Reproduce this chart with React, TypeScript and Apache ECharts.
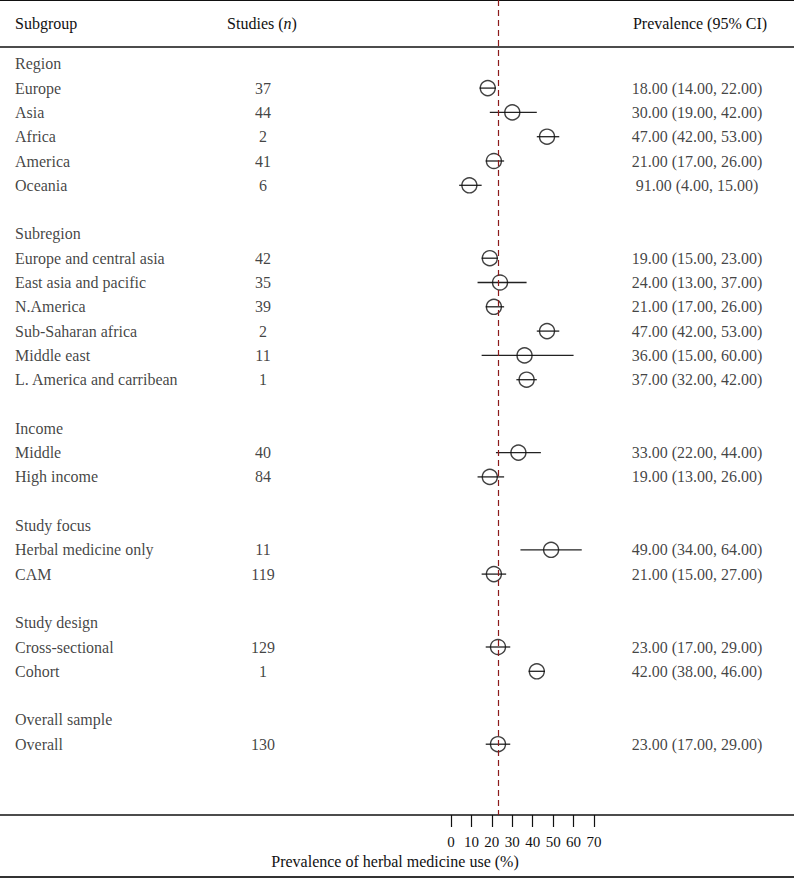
import React, { useEffect, useRef } from "react";
import * as echarts from "echarts";

const rowLabels: string[] = [
  "Region", "Europe", "Asia", "Africa", "America", "Oceania", "",
  "Subregion", "Europe and central asia", "East asia and pacific", "N.America",
  "Sub-Saharan africa", "Middle east", "L. America and carribean", "",
  "Income", "Middle", "High income", "",
  "Study focus", "Herbal medicine only", "CAM", "",
  "Study design", "Cross-sectional", "Cohort", "",
  "Overall sample", "Overall",
];
const studies: (number | null)[] = [
  null, 37, 44, 2, 41, 6, null,
  null, 42, 35, 39, 2, 11, 1, null,
  null, 40, 84, null,
  null, 11, 119, null,
  null, 129, 1, null,
  null, 130,
];
const estimates: (number | null)[] = [
  null, 18, 30, 47, 21, 9, null,
  null, 19, 24, 21, 47, 36, 37, null,
  null, 33, 19, null,
  null, 49, 21, null,
  null, 23, 42, null,
  null, 23,
];
const lowers: (number | null)[] = [
  null, 14, 19, 42, 17, 4, null,
  null, 15, 13, 17, 42, 15, 32, null,
  null, 22, 13, null,
  null, 34, 15, null,
  null, 17, 38, null,
  null, 17,
];
const uppers: (number | null)[] = [
  null, 22, 42, 53, 26, 15, null,
  null, 23, 37, 26, 53, 60, 42, null,
  null, 44, 26, null,
  null, 64, 27, null,
  null, 29, 46, null,
  null, 29,
];
const ciLabels: (string | null)[] = [
  null, "18.00 (14.00, 22.00)", "30.00 (19.00, 42.00)", "47.00 (42.00, 53.00)",
  "21.00 (17.00, 26.00)", "91.00 (4.00, 15.00)", null,
  null, "19.00 (15.00, 23.00)", "24.00 (13.00, 37.00)", "21.00 (17.00, 26.00)",
  "47.00 (42.00, 53.00)", "36.00 (15.00, 60.00)", "37.00 (32.00, 42.00)", null,
  null, "33.00 (22.00, 44.00)", "19.00 (13.00, 26.00)", null,
  null, "49.00 (34.00, 64.00)", "21.00 (15.00, 27.00)", null,
  null, "23.00 (17.00, 29.00)", "42.00 (38.00, 46.00)", null,
  null, "23.00 (17.00, 29.00)",
];
const referenceValue = 23;
const xMin = 0;
const xMax = 70;
const xInterval = 10;
const xTitle = "Prevalence of herbal medicine use (%)";

const FONT = "'Liberation Serif', 'Times New Roman', serif";
const FS = 16;
const W = 794;
const H = 879;
const AXIS_Y = 815;
const ROW0 = 63.8;
const ROW_STEP = 24.3;
const yMin = -ROW0 / ROW_STEP;
const yMax = yMin + AXIS_Y / ROW_STEP;

export default function App() {
  const ref = useRef<HTMLDivElement>(null);
  useEffect(() => {
    if (!ref.current) return;
    const chart = echarts.init(ref.current, null, { renderer: "svg" });

    const ciData = rowLabels
      .map((_, i) => (lowers[i] != null ? [lowers[i], uppers[i], i] : null))
      .filter((d) => d !== null);
    const estData = rowLabels
      .map((_, i) => (estimates[i] != null ? [estimates[i], i] : null))
      .filter((d) => d !== null);
    const nameData = rowLabels
      .map((n, i) => (n ? { value: [15, i], name: n } : null))
      .filter((d) => d !== null);
    const studyData = rowLabels
      .map((_, i) => (studies[i] != null ? { value: [263, i], name: String(studies[i]) } : null))
      .filter((d) => d !== null);
    const ciTextData = rowLabels
      .map((_, i) => (ciLabels[i] != null ? { value: [697, i], name: ciLabels[i] as string } : null))
      .filter((d) => d !== null);

    const textStyle = { color: "#111", fontFamily: FONT, fontSize: FS };

    chart.setOption({
      animation: false,
      backgroundColor: "#ffffff",
      textStyle: { fontFamily: FONT },
      grid: [
        { left: 451, width: 143, top: 0, height: AXIS_Y, containLabel: false },
        { left: 0, width: W, top: 0, height: AXIS_Y, containLabel: false },
      ],
      xAxis: [
        {
          type: "value",
          gridIndex: 0,
          position: "bottom",
          min: xMin,
          max: xMax,
          interval: xInterval,
          axisLine: { show: false, onZero: false },
          axisTick: { show: true, length: 12, inside: false, lineStyle: { color: "#111", width: 1.2 } },
          axisLabel: { show: true, margin: 19, color: "#111", fontFamily: FONT, fontSize: 15 },
          splitLine: { show: false },
        },
        { type: "value", gridIndex: 1, min: 0, max: W, show: false, axisLine: { onZero: false } },
      ],
      yAxis: [
        { type: "value", gridIndex: 0, min: yMin, max: yMax, inverse: true, show: false, axisLine: { onZero: false } },
        { type: "value", gridIndex: 1, min: yMin, max: yMax, inverse: true, show: false, axisLine: { onZero: false } },
      ],
      series: [
        {
          type: "custom",
          xAxisIndex: 0,
          yAxisIndex: 0,
          data: ciData,
          encode: { x: [0, 1], y: 2 },
          renderItem: (params: any, api: any) => {
            const p1 = api.coord([api.value(0), api.value(2)]);
            const p2 = api.coord([api.value(1), api.value(2)]);
            return {
              type: "line",
              shape: { x1: p1[0], y1: p1[1], x2: p2[0], y2: p2[1] },
              style: { stroke: "#222", lineWidth: 1.3 },
            };
          },
          z: 3,
        },
        {
          type: "scatter",
          xAxisIndex: 0,
          yAxisIndex: 0,
          data: estData,
          symbol: "circle",
          symbolSize: 15,
          itemStyle: { color: "rgba(0,0,0,0)", borderColor: "#111", borderWidth: 1.4 },
          z: 4,
          markLine: {
            silent: true,
            symbol: "none",
            label: { show: false },
            lineStyle: { color: "#8b1a1a", type: [6, 4], width: 1.2 },
            data: [{ xAxis: referenceValue }],
          },
        },
        {
          type: "scatter",
          xAxisIndex: 1,
          yAxisIndex: 1,
          data: nameData,
          symbolSize: 0,
          label: { show: true, position: "right", distance: 0, formatter: "{b}", ...textStyle },
        },
        {
          type: "scatter",
          xAxisIndex: 1,
          yAxisIndex: 1,
          data: studyData,
          symbolSize: 0,
          label: { show: true, position: "inside", formatter: "{b}", ...textStyle },
        },
        {
          type: "scatter",
          xAxisIndex: 1,
          yAxisIndex: 1,
          data: ciTextData,
          symbolSize: 0,
          label: { show: true, position: "inside", formatter: "{b}", ...textStyle },
        },
      ],
      graphic: [
        { type: "line", shape: { x1: 0, y1: 0.5, x2: W, y2: 0.5 }, style: { stroke: "#111", lineWidth: 1.2 } },
        { type: "line", shape: { x1: 0, y1: 47, x2: W, y2: 47 }, style: { stroke: "#111", lineWidth: 1.5 } },
        { type: "line", shape: { x1: 0, y1: AXIS_Y, x2: W, y2: AXIS_Y }, style: { stroke: "#111", lineWidth: 1.3 } },
        { type: "line", shape: { x1: 0, y1: 877, x2: W, y2: 877 }, style: { stroke: "#333", lineWidth: 1.8 } },
        {
          type: "text", x: 15, y: 23,
          style: { text: "Subgroup", fill: "#111", font: `${FS}px ${FONT}`, textAlign: "left", textVerticalAlign: "middle" },
        },
        {
          type: "text", x: 262, y: 23,
          style: {
            text: "Studies ({i|n})", fill: "#111", font: `${FS}px ${FONT}`, textAlign: "center", textVerticalAlign: "middle",
            rich: { i: { fontStyle: "italic", fontFamily: FONT, fontSize: FS, fill: "#111" } },
          },
        },
        {
          type: "text", x: 700, y: 23,
          style: { text: "Prevalence (95% CI)", fill: "#111", font: `${FS}px ${FONT}`, textAlign: "center", textVerticalAlign: "middle" },
        },
        {
          type: "text", x: 395, y: 861,
          style: { text: xTitle, fill: "#111", font: `${FS}px ${FONT}`, textAlign: "center", textVerticalAlign: "middle" },
        },
      ],
    });
    return () => chart.dispose();
  }, []);
  return (
    <div
      ref={ref}
      style={{ position: "absolute", left: 0, top: 0, width: W, height: H, background: "#fff" }}
    />
  );
}
